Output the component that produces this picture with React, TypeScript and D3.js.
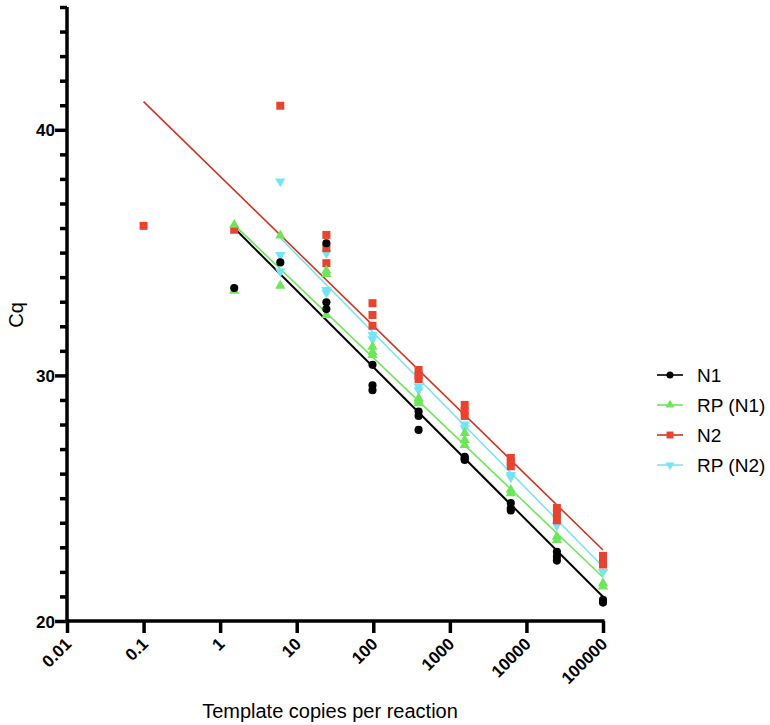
import * as d3 from 'd3'
import { useEffect, useRef } from 'react'

type Pt = [number, number];

// dilution series: copies per reaction vs Cq
const n1: Pt[] = [
    [1.526, 33.56], [6.104, 34.6],
    [24.41, 35.38], [24.41, 32.98], [24.41, 32.7],
    [97.66, 30.43], [97.66, 29.6], [97.66, 29.4],
    [390.6, 28.53], [390.6, 28.35], [390.6, 27.78],
    [1562.5, 26.69], [1562.5, 26.62], [1562.5, 26.56],
    [6250, 24.8], [6250, 24.59], [6250, 24.5],
    [25000, 22.82], [25000, 22.62], [25000, 22.46],
    [100000, 20.86], [100000, 20.75],
];

const rpN1: Pt[] = [
    [1.526, 36.13], [1.526, 33.45],
    [6.104, 35.7], [6.104, 33.65],
    [24.41, 34.26], [24.41, 34.13], [24.41, 32.46],
    [97.66, 31.17], [97.66, 30.95], [97.66, 30.83],
    [390.6, 29.07], [390.6, 28.97], [390.6, 28.87],
    [1562.5, 27.65], [1562.5, 27.37], [1562.5, 27.17],
    [6250, 25.34], [6250, 25.2],
    [25000, 23.43], [25000, 23.3],
    [100000, 21.54], [100000, 21.4],
];

const n2: Pt[] = [
    [0.1, 36.09], [1.526, 35.93], [6.104, 40.98],
    [24.41, 35.72], [24.41, 35.18], [24.41, 34.57],
    [97.66, 32.94], [97.66, 32.46], [97.66, 32.02],
    [390.6, 30.22], [390.6, 30.0], [390.6, 29.85],
    [1562.5, 28.8], [1562.5, 28.55], [1562.5, 28.35],
    [6250, 26.64], [6250, 26.47], [6250, 26.3],
    [25000, 24.6], [25000, 24.35], [25000, 24.1],
    [100000, 22.65], [100000, 22.45], [100000, 22.3],
];

const rpN2: Pt[] = [
    [6.104, 37.9], [6.104, 34.9], [6.104, 34.23],
    [24.41, 34.98], [24.41, 33.48], [24.41, 33.37],
    [97.66, 31.65], [97.66, 31.47],
    [390.6, 29.55], [390.6, 29.4],
    [1562.5, 28.0], [1562.5, 27.85],
    [6250, 25.95], [6250, 25.85],
    [25000, 23.9],
    [100000, 22.0],
];

// fitted lines: [copies, Cq] at start and end
const n1Fit: Pt[] = [[1.526, 36.0], [100000, 20.99]];
const rpN1Fit: Pt[] = [[1.526, 36.13], [100000, 21.78]];
const n2Fit: Pt[] = [[0.1, 41.15], [100000, 22.89]];
const rpN2Fit: Pt[] = [[6.104, 35.6], [100000, 22.21]];

const xTicks = [0.01, 0.1, 1, 10, 100, 1000, 10000, 100000];
const yMajor = [20, 30, 40];
const seriesNames = ['N1', 'RP (N1)', 'N2', 'RP (N2)'];

const series = [
    { name: 'N1', pts: n1, fit: n1Fit, color: '#000000', line: '#000000', symbol: d3.symbolCircle, size: 52, rot: 0 },
    { name: 'RP (N1)', pts: rpN1, fit: rpN1Fit, color: '#6ee55a', line: '#6ee55a', symbol: d3.symbolTriangle, size: 46, rot: 0 },
    { name: 'N2', pts: n2, fit: n2Fit, color: '#e8432e', line: '#d0341f', symbol: d3.symbolSquare, size: 64, rot: 0 },
    { name: 'RP (N2)', pts: rpN2, fit: rpN2Fit, color: '#74e4f6', line: '#7fe2f2', symbol: d3.symbolTriangle, size: 46, rot: 180 },
];

const font = 'Liberation Sans, Arial, Helvetica, sans-serif';

const drawChart = (el: SVGSVGElement) => {
    const svg = d3.select(el);
    svg.selectAll('*').remove();

    const x = d3.scaleLog().domain([0.01, 100000]).range([67, 603]);
    const y = d3.scaleLinear().domain([20, 45]).range([621, 7]);

    const line = d3.line<Pt>().x(d => x(d[0])).y(d => y(d[1]));

    // fit lines
    series.forEach(s => {
        svg.append('path')
            .datum(s.fit)
            .attr('fill', 'none')
            .attr('stroke', s.line)
            .attr('stroke-width', s.name === 'N1' ? 2 : 1.6)
            .attr('d', line);
    });

    // points, black drawn last
    [...series].reverse().forEach(s => {
        const sym = d3.symbol().type(s.symbol).size(s.size);
        svg.append('g')
            .selectAll('path')
            .data(s.pts)
            .join('path')
            .attr('d', sym)
            .attr('fill', s.color)
            .attr('transform', d => `translate(${x(d[0])},${y(d[1])}) rotate(${s.rot})`);
    });

    // y axis
    const yAxis = svg.append('g').attr('transform', 'translate(67,0)');
    yAxis.call(d3.axisLeft(y).tickValues(d3.range(20, 46, 1)).tickSize(7).tickFormat(() => ''));
    yAxis.selectAll('.tick')
        .filter(d => yMajor.includes(d as number))
        .select('line').attr('x2', -12);
    yAxis.selectAll('.tick')
        .filter(d => yMajor.includes(d as number))
        .select('text')
        .text(d => String(d))
        .attr('x', -12)
        .attr('dy', '0.36em')
        .attr('font-size', 17)
        .attr('font-weight', 'bold')
        .attr('font-family', font)
        .attr('fill', '#000');
    yAxis.select('.domain').attr('stroke-width', 3.5).attr('d', `M0,${y(45)}V${y(20) + 1.5}`);
    yAxis.selectAll('.tick line').attr('stroke-width', 3.5);

    // x axis
    const xAxis = svg.append('g').attr('transform', 'translate(0,621)');
    xAxis.call(d3.axisBottom(x).tickValues(xTicks).tickSize(12).tickFormat(d => String(d)));
    xAxis.select('.domain').attr('stroke-width', 3.5).attr('d', `M${x(0.01) - 1.5},0H${x(100000) + 1.5}`);
    xAxis.selectAll('.tick line').attr('stroke-width', 3.5);
    xAxis.selectAll('.tick text')
        .attr('y', 0)
        .attr('dy', 0)
        .attr('text-anchor', 'end')
        .attr('transform', 'translate(5,24) rotate(-45)')
        .attr('font-size', 17)
        .attr('font-weight', 'bold')
        .attr('font-family', font)
        .attr('fill', '#000');

    // axis titles
    svg.append('text')
        .attr('transform', 'translate(23,315) rotate(-90)')
        .attr('text-anchor', 'middle')
        .attr('font-size', 20)
        .attr('font-family', font)
        .text('Cq');

    svg.append('text')
        .attr('x', 330)
        .attr('y', 718)
        .attr('text-anchor', 'middle')
        .attr('font-size', 20)
        .attr('font-family', font)
        .text('Template copies per reaction');

    // legend
    const legend = svg.append('g');
    seriesNames.forEach((name, i) => {
        const s = series[i];
        const ly = 375 + i * 30;
        legend.append('line')
            .attr('x1', 657).attr('x2', 683)
            .attr('y1', ly).attr('y2', ly)
            .attr('stroke', s.line)
            .attr('stroke-width', 1.6);
        legend.append('path')
            .attr('d', d3.symbol().type(s.symbol).size(s.size * 0.75)())
            .attr('fill', s.color)
            .attr('transform', `translate(670,${ly}) rotate(${s.rot})`);
        legend.append('text')
            .attr('x', 697)
            .attr('y', ly)
            .attr('dy', '0.36em')
            .attr('font-size', 19)
            .attr('font-family', font)
            .text(name);
    });
};

const App = () => {
    const ref = useRef<SVGSVGElement>(null);

    useEffect(() => {
        if (ref.current) drawChart(ref.current);
    }, []);

    return (
        <svg ref={ref} width={770} height={725}
            style={{ position: 'absolute', left: 0, top: 0, background: '#fff' }} />
    );
};

export default App;
